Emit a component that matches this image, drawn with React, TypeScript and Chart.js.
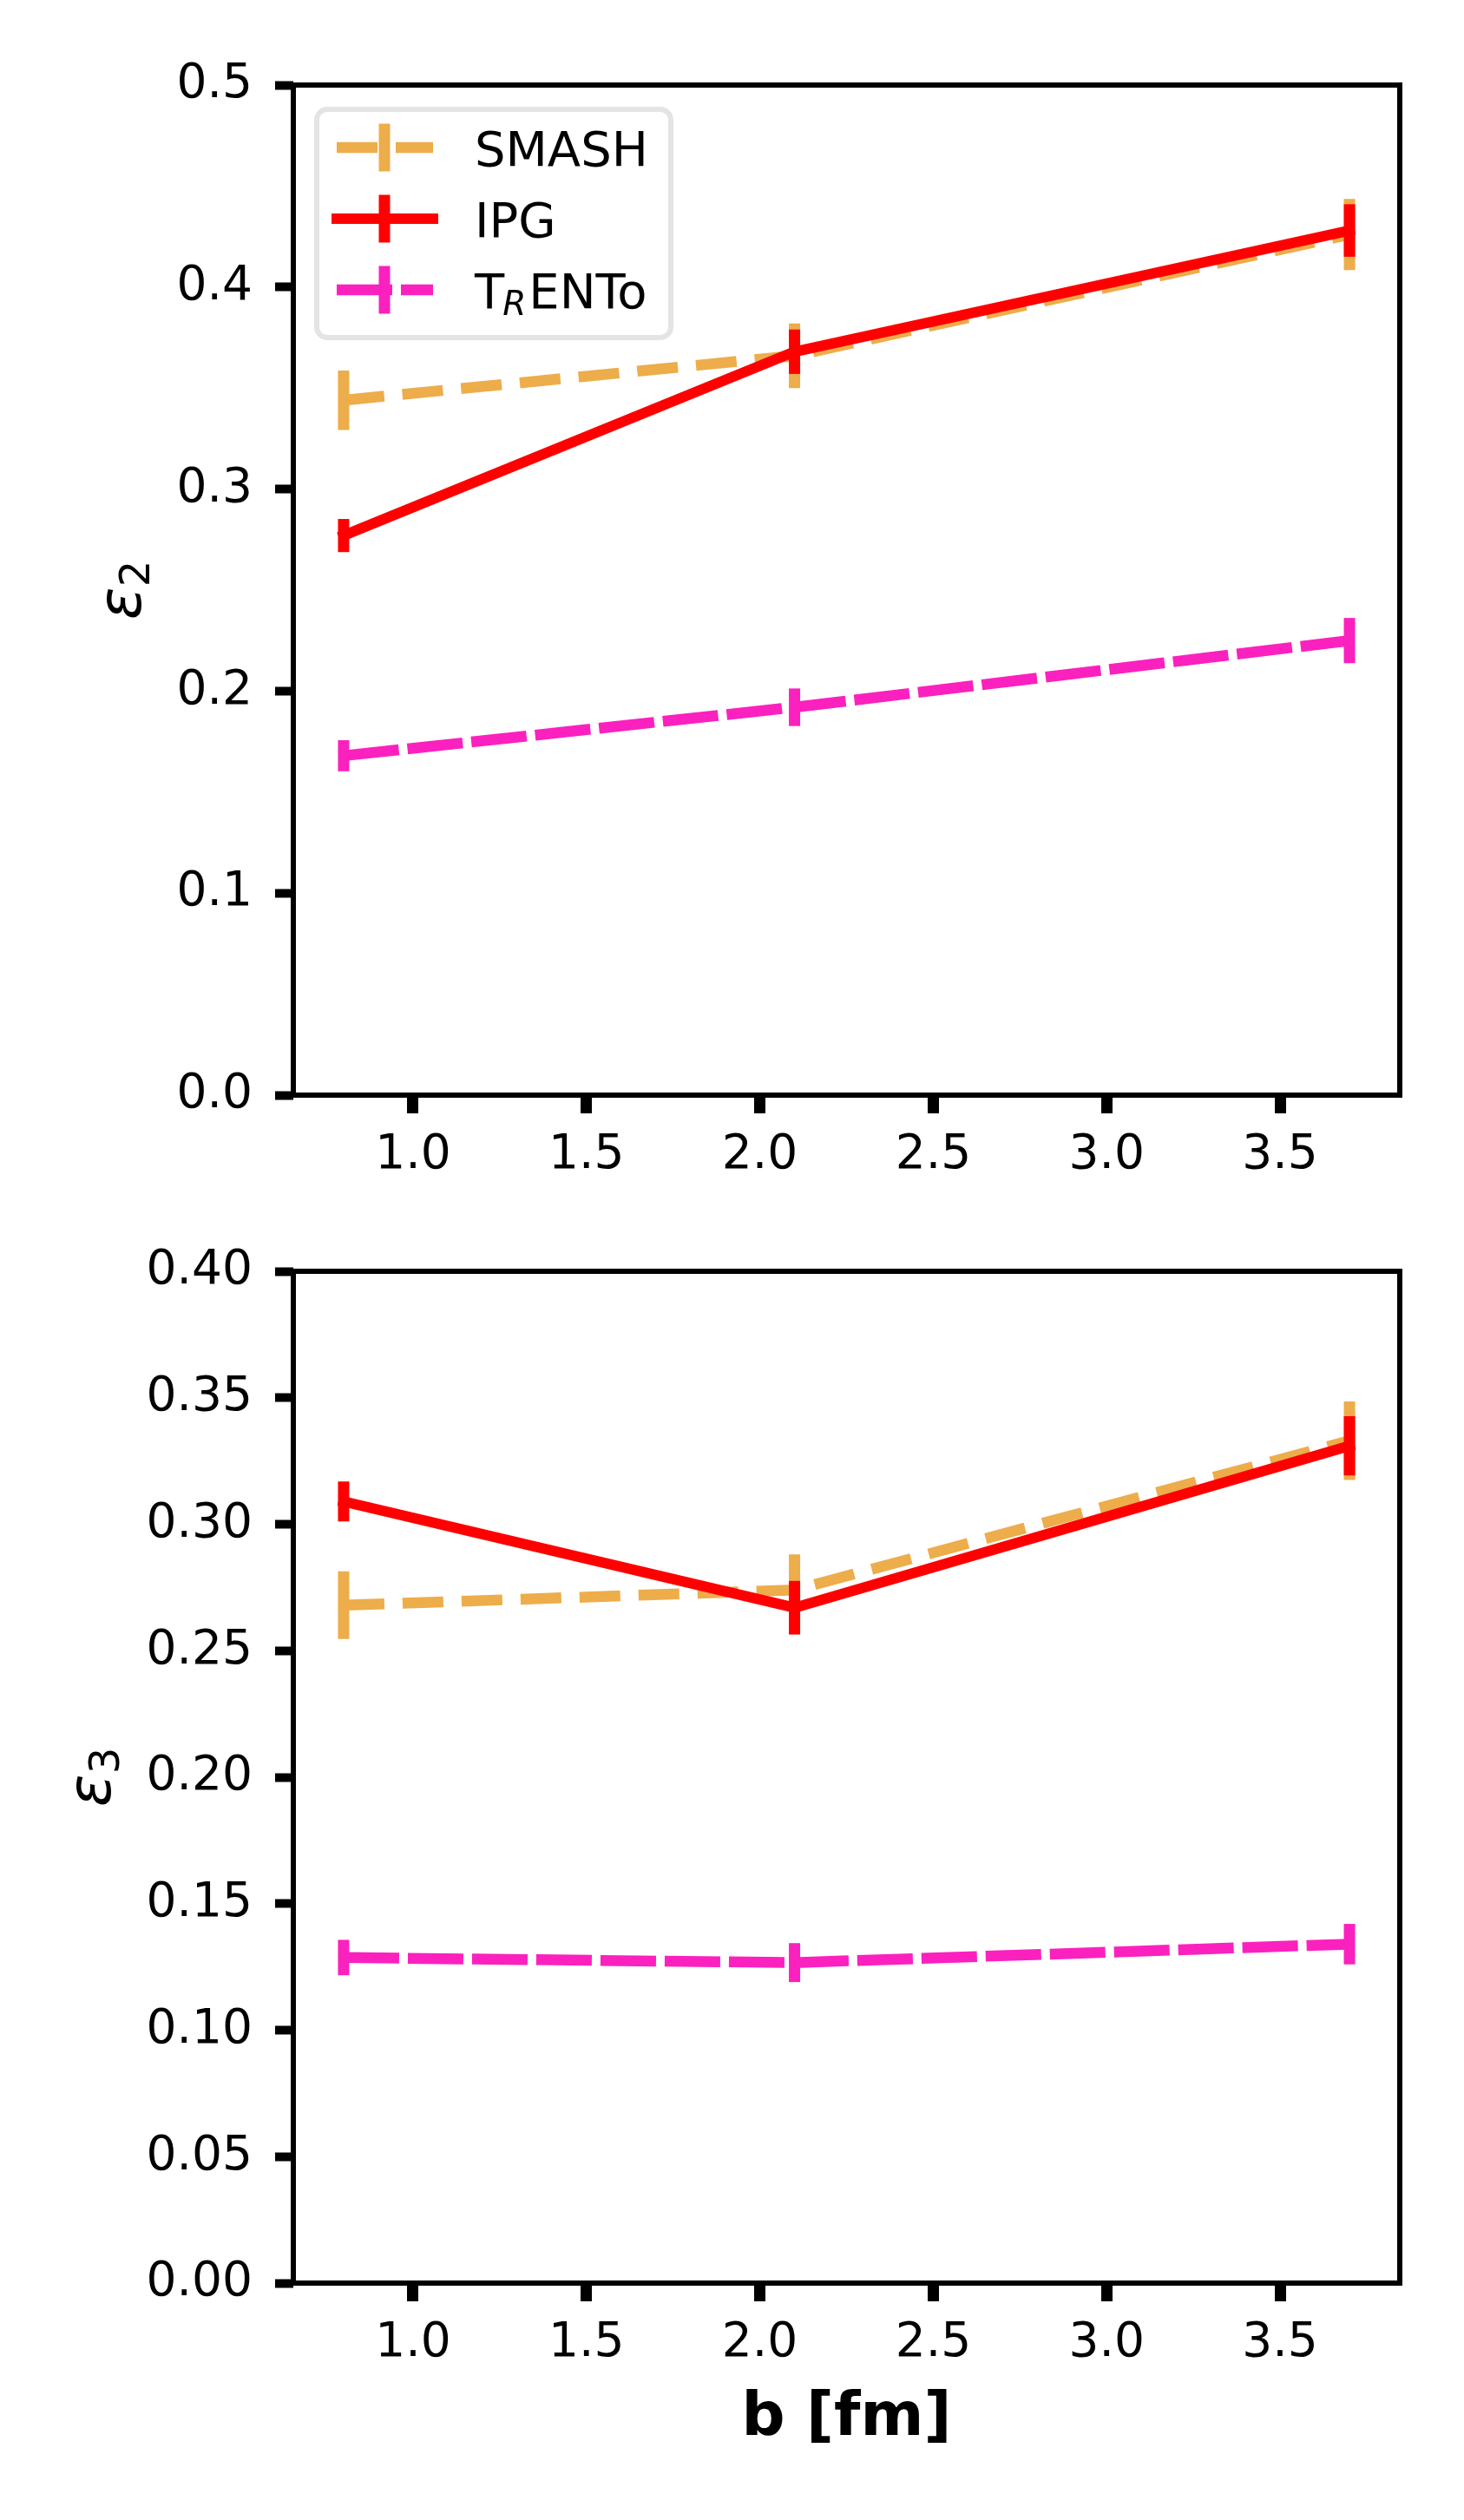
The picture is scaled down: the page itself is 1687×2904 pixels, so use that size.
import { useEffect, useRef } from "react"
import Chart from "chart.js/auto"

// impact parameter b [fm]
const bValues = [0.8, 2.1, 3.7]

const seriesNames = ["SMASH", "IPG", "TRENTo"]
const seriesColors = ["#EDAD4A", "#FF0000", "#FB21BE"]
const seriesDash = [[47, 21], [], [64, 10]]

// eccentricity epsilon_2
const eps2Smash = [0.344, 0.366, 0.426]
const eps2SmashErr = [0.0147, 0.016, 0.0176]
const eps2Ipg = [0.277, 0.368, 0.428]
const eps2IpgErr = [0.0082, 0.011, 0.013]
const eps2Trento = [0.168, 0.192, 0.225]
const eps2TrentoErr = [0.0077, 0.0093, 0.0112]

// eccentricity epsilon_3
const eps3Smash = [0.268, 0.274, 0.333]
const eps3SmashErr = [0.0134, 0.0141, 0.0155]
const eps3Ipg = [0.309, 0.267, 0.331]
const eps3IpgErr = [0.0079, 0.0106, 0.0117]
const eps3Trento = [0.1287, 0.1267, 0.134]
const eps3TrentoErr = [0.007, 0.0077, 0.008]

const xTicks = [1.0, 1.5, 2.0, 2.5, 3.0, 3.5]
const yTicksEps2 = [0, 0.1, 0.2, 0.3, 0.4, 0.5]
const yTicksEps3 = [0, 0.05, 0.1, 0.15, 0.2, 0.25, 0.3, 0.35, 0.4]

const FONT = "'DejaVu Sans', sans-serif"
Chart.defaults.font.family = FONT
Chart.defaults.color = "#000"

// vertical error bars, drawn right after their own line
const errorBarPlugin = {
  id: "errorBars",
  afterDatasetDraw(chart: any, args: any) {
    const ds = chart.data.datasets[args.index]
    if (!ds.errors) return
    const { ctx } = chart
    const xs = chart.scales.x
    const ys = chart.scales.y
    ctx.save()
    ctx.strokeStyle = ds.borderColor
    ctx.lineWidth = 13
    ctx.lineCap = "butt"
    ds.data.forEach((p: any, i: number) => {
      const px = xs.getPixelForValue(p.x)
      ctx.beginPath()
      ctx.moveTo(px, ys.getPixelForValue(p.y - ds.errors[i]))
      ctx.lineTo(px, ys.getPixelForValue(p.y + ds.errors[i]))
      ctx.stroke()
    })
    ctx.restore()
  },
}

function drawLegend(ctx: CanvasRenderingContext2D) {
  ctx.save()
  ctx.beginPath()
  ctx.roundRect(365, 126, 408, 263, 12)
  ctx.fillStyle = "rgba(255,255,255,0.8)"
  ctx.fill()
  ctx.strokeStyle = "#E4E4E4"
  ctx.lineWidth = 6
  ctx.stroke()

  const rowY = [170, 252, 334]
  seriesNames.forEach((name, i) => {
    const y = rowY[i]
    ctx.strokeStyle = seriesColors[i]
    ctx.lineWidth = i === 1 ? 12 : 12.5
    ctx.lineCap = i === 1 ? "square" : "butt"
    ctx.setLineDash(seriesDash[i])
    ctx.beginPath()
    ctx.moveTo(388, y)
    ctx.lineTo(499, y)
    ctx.stroke()
    ctx.setLineDash([])
    ctx.lineCap = "butt"
    ctx.lineWidth = 13
    ctx.beginPath()
    ctx.moveTo(443, y - 27.5)
    ctx.lineTo(443, y + 27.5)
    ctx.stroke()

    ctx.fillStyle = "#000"
    ctx.textAlign = "left"
    ctx.textBaseline = "alphabetic"
    ctx.font = `56px ${FONT}`
    if (name === "TRENTo") {
      let x = 547
      ctx.fillText("T", x, y + 21)
      x += ctx.measureText("T").width - 2
      ctx.font = `italic 39px ${FONT}`
      ctx.fillText("R", x, y + 29)
      x += ctx.measureText("R").width + 3
      ctx.font = `56px ${FONT}`
      ctx.fillText("ENTo", x, y + 21)
    } else {
      ctx.fillText(name, 547, y + 21)
    }
  })
  ctx.restore()
}

// box spines, y label with subscript, legend
const framePlugin = {
  id: "frame",
  afterDraw(chart: any, _args: any, opts: any) {
    const { ctx, chartArea: a } = chart
    ctx.save()
    ctx.strokeStyle = "#000"
    ctx.lineWidth = 6
    ctx.strokeRect(a.left, a.top, a.right - a.left, a.bottom - a.top)

    ctx.translate(opts.labelX, (a.top + a.bottom) / 2)
    ctx.rotate(-Math.PI / 2)
    ctx.fillStyle = "#000"
    ctx.textAlign = "left"
    ctx.textBaseline = "alphabetic"
    ctx.font = `italic 70px ${FONT}`
    const w1 = ctx.measureText("ε").width
    ctx.font = `48px ${FONT}`
    const w2 = ctx.measureText(opts.sub).width
    const start = -(w1 + w2) / 2
    ctx.font = `italic 70px ${FONT}`
    ctx.fillText("ε", start, 0)
    ctx.font = `48px ${FONT}`
    ctx.fillText(opts.sub, start + w1, 10)
    ctx.restore()

    if (opts.legend) drawLegend(ctx)
  },
}

interface PanelProps {
  top: number
  height: number
  padTop: number
  xScaleHeight: number
  yMax: number
  yTicks: number[]
  yDigits: number
  sub: string
  labelX: number
  values: number[][]
  errors: number[][]
  legend: boolean
  xTitle: boolean
}

function Panel(props: PanelProps) {
  const canvasRef = useRef<HTMLCanvasElement>(null)

  useEffect(() => {
    if (!canvasRef.current) return
    const chart = new Chart(canvasRef.current, {
      type: "line",
      data: {
        datasets: seriesNames.map((name, i) => ({
          label: name,
          data: bValues.map((b, j) => ({ x: b, y: props.values[i][j] })),
          errors: props.errors[i],
          borderColor: seriesColors[i],
          backgroundColor: seriesColors[i],
          borderWidth: i === 1 ? 12 : 12.5,
          borderDash: seriesDash[i],
          borderCapStyle: i === 1 ? "square" : "butt",
          borderJoinStyle: "round",
          pointRadius: 0,
          pointHoverRadius: 0,
          tension: 0,
          fill: false,
          order: 3 - i,
        })) as any,
      },
      options: {
        animation: false,
        responsive: false,
        devicePixelRatio: 1,
        events: [],
        layout: { padding: { top: props.padTop, right: 74, bottom: 0, left: 0 } },
        plugins: {
          legend: { display: false },
          tooltip: { enabled: false },
          frame: { sub: props.sub, legend: props.legend, labelX: props.labelX },
        } as any,
        scales: {
          x: {
            type: "linear",
            min: 0.655,
            max: 3.845,
            afterBuildTicks: (s: any) => {
              s.ticks = xTicks.map((v) => ({ value: v }))
            },
            afterFit: (s: any) => {
              s.height = props.xScaleHeight
            },
            ticks: {
              callback: (v: any) => Number(v).toFixed(1),
              font: { size: 55 },
              color: "#000",
              padding: 16,
              maxRotation: 0,
              autoSkip: false,
            },
            grid: { drawOnChartArea: false, drawTicks: true, tickLength: 21, tickWidth: 13, tickColor: "#000" },
            border: { display: false },
            title: {
              display: props.xTitle,
              text: "b [fm]",
              font: { size: 70, weight: "bold" },
              color: "#000",
              padding: { top: 0, bottom: 74 },
            },
          },
          y: {
            type: "linear",
            min: 0,
            max: props.yMax,
            afterBuildTicks: (s: any) => {
              s.ticks = props.yTicks.map((v) => ({ value: v }))
            },
            afterFit: (s: any) => {
              s.width = 338
            },
            ticks: {
              callback: (v: any) => Number(v).toFixed(props.yDigits),
              font: { size: 55 },
              color: "#000",
              padding: 26,
              autoSkip: false,
            },
            grid: { drawOnChartArea: false, drawTicks: true, tickLength: 21, tickWidth: 10, tickColor: "#000" },
            border: { display: false },
          },
        },
      },
      plugins: [errorBarPlugin, framePlugin],
    })
    return () => chart.destroy()
  }, [])

  return (
    <canvas
      ref={canvasRef}
      width={1687}
      height={props.height}
      style={{ position: "absolute", left: 0, top: props.top, display: "block" }}
    />
  )
}

export default function App() {
  return (
    <div style={{ position: "absolute", left: 0, top: 0, width: 1687, height: 2904, background: "#fff" }}>
      <Panel
        top={0}
        height={1363}
        padTop={98}
        xScaleHeight={101}
        yMax={0.5}
        yTicks={yTicksEps2}
        yDigits={1}
        sub="2"
        labelX={162}
        values={[eps2Smash, eps2Ipg, eps2Trento]}
        errors={[eps2SmashErr, eps2IpgErr, eps2TrentoErr]}
        legend={true}
        xTitle={false}
      />
      <Panel
        top={1363}
        height={1541}
        padTop={102}
        xScaleHeight={273}
        yMax={0.4}
        yTicks={yTicksEps3}
        yDigits={2}
        sub="3"
        labelX={127}
        values={[eps3Smash, eps3Ipg, eps3Trento]}
        errors={[eps3SmashErr, eps3IpgErr, eps3TrentoErr]}
        legend={false}
        xTitle={true}
      />
    </div>
  )
}
